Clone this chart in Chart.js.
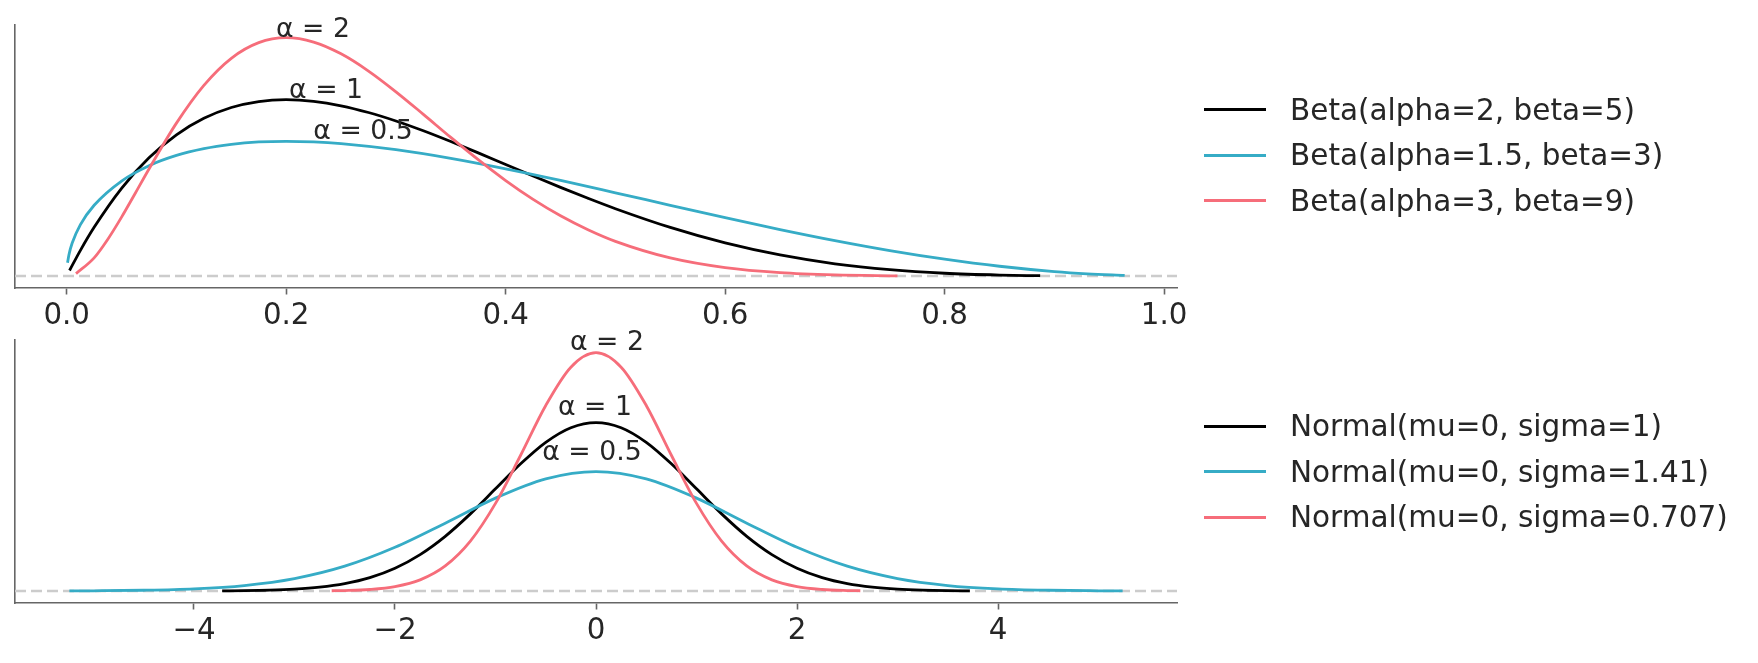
<!DOCTYPE html>
<html>
<head>
<meta charset="utf-8">
<script src="https://cdn.jsdelivr.net/npm/chart.js@4/dist/chart.umd.min.js"></script>
<style>
  html, body { margin: 0; padding: 0; background: #ffffff; }
  #wrap { position: relative; width: 1758px; height: 663px; background: #ffffff; overflow: hidden; }
  canvas { position: absolute; left: 0; }
  .leg { position: absolute; left: 1204px; height: 34px; font-family: "DejaVu Sans", sans-serif; font-size: 29.5px; color: #262626; white-space: nowrap; }
  .leg .ln { position: absolute; left: 0; top: 15.5px; width: 62px; height: 3px; }
  .leg .tx { position: absolute; left: 86px; top: 0; line-height: 34px; }
</style>
</head>
<body>
<div id="wrap">
  <canvas id="c1" width="1758" height="340" style="top:0px"></canvas>
  <canvas id="c2" width="1758" height="343" style="top:320px"></canvas>
</div>
<script>
// ---------- DATA ----------
const seriesColors = ["#000000", "#36acc6", "#f66d7a"];

// Top panel: Beta densities
const betaLabels = ["Beta(alpha=2, beta=5)", "Beta(alpha=1.5, beta=3)", "Beta(alpha=3, beta=9)"];
const beta25X = [0.0026, 0.0125, 0.025, 0.05, 0.075, 0.1, 0.125, 0.15, 0.175, 0.2, 0.225, 0.25, 0.275, 0.3, 0.325, 0.35, 0.375, 0.4, 0.425, 0.45, 0.475, 0.5, 0.55, 0.6, 0.65, 0.7, 0.75, 0.8, 0.85, 0.887];
const beta25Y = [0.077, 0.357, 0.678, 1.222, 1.647, 1.968, 2.198, 2.349, 2.432, 2.458, 2.435, 2.373, 2.279, 2.161, 2.024, 1.874, 1.717, 1.555, 1.394, 1.235, 1.083, 0.938, 0.677, 0.461, 0.293, 0.170, 0.088, 0.038, 0.013, 0.004];
const beta153X = [0.0008, 0.002, 0.005, 0.0125, 0.025, 0.05, 0.075, 0.1, 0.125, 0.15, 0.175, 0.2, 0.225, 0.25, 0.3, 0.35, 0.4, 0.45, 0.5, 0.55, 0.6, 0.65, 0.7, 0.75, 0.8, 0.85, 0.9, 0.93, 0.964];
const beta153Y = [0.185, 0.292, 0.459, 0.716, 0.986, 1.324, 1.538, 1.681, 1.776, 1.836, 1.869, 1.878, 1.870, 1.846, 1.761, 1.640, 1.494, 1.332, 1.160, 0.986, 0.813, 0.648, 0.494, 0.355, 0.235, 0.136, 0.062, 0.031, 0.008];
const beta39X = [0.0085, 0.025, 0.0375, 0.05, 0.0625, 0.075, 0.1, 0.125, 0.15, 0.175, 0.2, 0.225, 0.25, 0.275, 0.3, 0.325, 0.35, 0.375, 0.4, 0.425, 0.45, 0.475, 0.5, 0.55, 0.6, 0.65, 0.7, 0.757];
const beta39Y = [0.033, 0.253, 0.513, 0.821, 1.154, 1.492, 2.131, 2.658, 3.035, 3.253, 3.322, 3.261, 3.097, 2.857, 2.568, 2.253, 1.932, 1.621, 1.330, 1.068, 0.839, 0.645, 0.483, 0.252, 0.117, 0.047, 0.016, 0.003];
const betaTicks = [0.0, 0.2, 0.4, 0.6, 0.8, 1.0];
const betaTickLabels = ["0.0", "0.2", "0.4", "0.6", "0.8", "1.0"];
const betaXRange = [-0.0471, 1.0117];
const betaYRange = [-0.1673, 3.499];
const betaAnnText = ["α = 2", "α = 1", "α = 0.5"];
const betaAnnX = [0.2244, 0.2363, 0.270];
const betaAnnY = [3.471, 2.621, 2.049];

// Bottom panel: Normal densities
const normLabels = ["Normal(mu=0, sigma=1)", "Normal(mu=0, sigma=1.41)", "Normal(mu=0, sigma=0.707)"];
const norm1X = [-3.72, -3.5, -3.25, -3.0, -2.75, -2.5, -2.25, -2.0, -1.75, -1.5, -1.25, -1.0, -0.75, -0.5, -0.25, 0, 0.25, 0.5, 0.75, 1.0, 1.25, 1.5, 1.75, 2.0, 2.25, 2.5, 2.75, 3.0, 3.25, 3.5, 3.72];
const norm1Y = [0.0004, 0.00087, 0.00203, 0.00443, 0.00909, 0.01753, 0.03174, 0.05399, 0.08628, 0.12952, 0.18265, 0.24197, 0.30114, 0.35207, 0.38667, 0.39894, 0.38667, 0.35207, 0.30114, 0.24197, 0.18265, 0.12952, 0.08628, 0.05399, 0.03174, 0.01753, 0.00909, 0.00443, 0.00203, 0.00087, 0.0004];
const norm141X = [-5.24, -5.0, -4.5, -4.0, -3.5, -3.0, -2.5, -2.0, -1.5, -1.0, -0.5, 0, 0.5, 1.0, 1.5, 2.0, 2.5, 3.0, 3.5, 4.0, 4.5, 5.0, 5.24];
const norm141Y = [0.00028, 0.00053, 0.00174, 0.00506, 0.01299, 0.02942, 0.05876, 0.10346, 0.16067, 0.22002, 0.26569, 0.28294, 0.26569, 0.22002, 0.16067, 0.10346, 0.05876, 0.02942, 0.01299, 0.00506, 0.00174, 0.00053, 0.00028];
const norm0707X = [-2.63, -2.5, -2.25, -2.0, -1.75, -1.5, -1.25, -1.0, -0.75, -0.5, -0.25, 0, 0.25, 0.5, 0.75, 1.0, 1.25, 1.5, 1.75, 2.0, 2.25, 2.5, 2.63];
const norm0707Y = [0.00056, 0.00109, 0.00357, 0.01032, 0.02637, 0.05943, 0.11823, 0.20752, 0.32145, 0.43942, 0.53007, 0.56427, 0.53007, 0.43942, 0.32145, 0.20752, 0.11823, 0.05943, 0.02637, 0.01032, 0.00357, 0.00109, 0.00056];
const normTicks = [-4, -2, 0, 2, 4];
const normTickLabels = ["\u22124", "\u22122", "0", "2", "4"];
const normXRange = [-5.781, 5.781];
const normYRange = [-0.0284, 0.5944];
const normAnnText = ["α = 2", "α = 1", "α = 0.5"];
const normAnnX = [0.109, -0.01, -0.04];
const normAnnY = [0.5944, 0.4404, 0.3339];

// ---------- helpers ----------
const FONT = '"DejaVu Sans", sans-serif';
const TEXT = '#262626';
const SPINE = '#666666';

function pts(xs, ys) { return xs.map((x, i) => ({ x: x, y: ys[i] })); }

function annPlugin(texts, xs, ys) {
  return {
    id: 'ann',
    afterDatasetsDraw(chart) {
      const ctx = chart.ctx;
      const sx = chart.scales.x, sy = chart.scales.y;
      ctx.save();
      ctx.font = '26.7px ' + FONT;
      ctx.fillStyle = TEXT;
      ctx.textAlign = 'center';
      ctx.textBaseline = 'alphabetic';
      texts.forEach((t, i) => {
        ctx.fillText(t, sx.getPixelForValue(xs[i]), sy.getPixelForValue(ys[i]) + 9.7);
      });
      ctx.restore();
    }
  };
}

function makeChart(canvas, curves, labels, xr, yr, ticks, tickLabels, padTop, xAxisH, ann) {
  const datasets = curves.map((c, i) => ({
    label: labels[i],
    data: pts(c[0], c[1]),
    borderColor: seriesColors[i],
    borderWidth: 2.8,
    pointRadius: 0,
    fill: false,
    cubicInterpolationMode: 'monotone',
    order: 3 - i
  }));
  datasets.push({
    label: 'zero',
    data: [{ x: xr[0], y: 0 }, { x: xr[1], y: 0 }],
    borderColor: '#cccccc',
    borderWidth: 2.6,
    borderDash: [11, 5],
    pointRadius: 0,
    fill: false,
    order: 10
  });
  return new Chart(canvas, {
    type: 'line',
    data: { datasets: datasets },
    options: {
      responsive: false,
      animation: false,
      devicePixelRatio: 1,
      layout: { padding: { left: 15, right: 581, top: padTop, bottom: 0 } },
      plugins: { legend: { display: false }, tooltip: { enabled: false } },
      scales: {
        x: {
          type: 'linear',
          min: xr[0], max: xr[1],
          afterBuildTicks: s => { s.ticks = ticks.map(v => ({ value: v })); },
          afterFit: s => { s.height = xAxisH; },
          ticks: {
            callback: (v) => { const k = ticks.indexOf(v); return k >= 0 ? tickLabels[k] : ''; },
            font: { family: FONT, size: 29.3 },
            color: TEXT,
            padding: 4,
            maxRotation: 0,
            autoSkip: false
          },
          grid: { display: true, drawOnChartArea: false, drawTicks: true, tickLength: 6.5, tickWidth: 1.6, tickColor: SPINE },
          border: { display: true, color: SPINE, width: 1.6 }
        },
        y: {
          type: 'linear',
          min: yr[0], max: yr[1],
          ticks: { display: false },
          grid: { display: false },
          border: { display: true, color: SPINE, width: 1.6 },
          afterFit: s => { s.width = 0; }
        }
      }
    },
    plugins: [ann]
  });
}

makeChart(document.getElementById('c1'),
  [[beta25X, beta25Y], [beta153X, beta153Y], [beta39X, beta39Y]],
  betaLabels, betaXRange, betaYRange, betaTicks, betaTickLabels, 25, 52,
  annPlugin(betaAnnText, betaAnnX, betaAnnY));

makeChart(document.getElementById('c2'),
  [[norm1X, norm1Y], [norm141X, norm141Y], [norm0707X, norm0707Y]],
  normLabels, normXRange, normYRange, normTicks, normTickLabels, 20, 60,
  annPlugin(normAnnText, normAnnX, normAnnY));

// ---------- HTML legends ----------
function legend(labels, centers) {
  const wrap = document.getElementById('wrap');
  labels.forEach((t, i) => {
    const d = document.createElement('div');
    d.className = 'leg';
    d.style.top = (centers[i] - 17) + 'px';
    const l = document.createElement('span');
    l.className = 'ln';
    l.style.background = seriesColors[i];
    const s = document.createElement('span');
    s.className = 'tx';
    s.textContent = t;
    d.appendChild(l); d.appendChild(s);
    wrap.appendChild(d);
  });
}
legend(betaLabels, [109.5, 155, 200.5]);
legend(normLabels, [426, 471.5, 517]);
</script>
</body>
</html>
